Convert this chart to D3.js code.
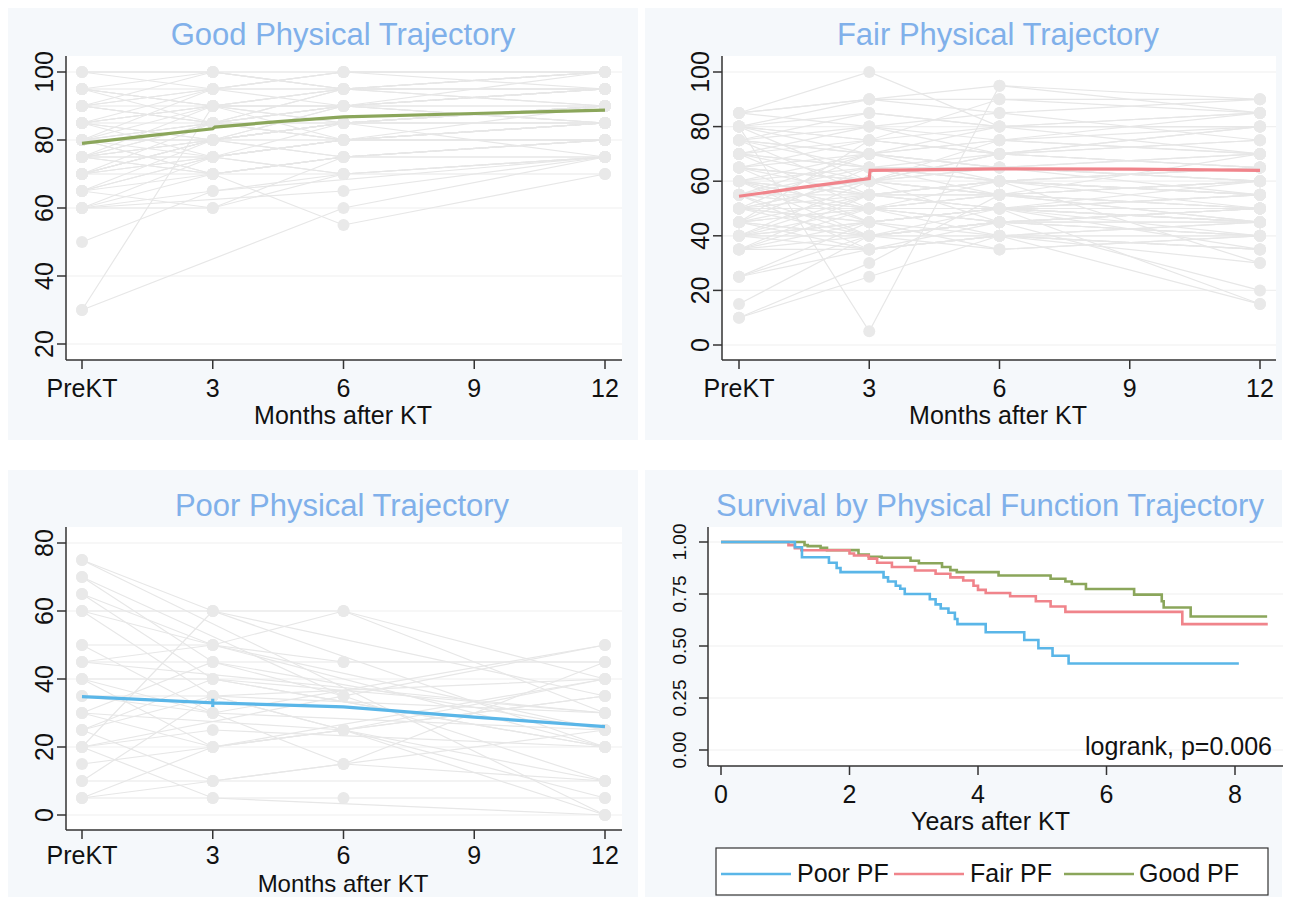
<!DOCTYPE html>
<html>
<head>
<meta charset="utf-8">
<script src="https://cdn.jsdelivr.net/npm/d3@7"></script>
<style>
  body { margin: 0; background: #fff; }
  svg text { font-family: "Liberation Sans", Arial, sans-serif; }
</style>
</head>
<body>
<div id="chart"></div>
<script>
var W = 1290, H = 897;

// ---- data ----
var months = [0, 3, 6, 12];
var monthTicks = [0, 3, 6, 9, 12];
var monthLabels = ["PreKT", "3", "6", "9", "12"];

// Good trajectory, one row per subject: PreKT, 3, 6, 12 months
var good0  = [100,100,95,95,90,90,90,85,85,85,80,80,80,80,75,75,75,75,70,70,70,70,65,65,60,60,60,50,30,30,75,95,90,85,80,75,65,95,100,85,60,65,60,80,90,75,80,85,70,95,85,80,75,70,90,95,80,75,70,85,90,65,80,75,70];
var good3  = [100,95,100,90,95,85,90,90,80,95,85,80,90,75,80,85,75,70,80,75,85,70,75,70,70,60,75,65,90,null,70,95,100,85,85,80,80,90,100,75,65,60,null,70,85,90,95,90,80,85,80,85,75,80,95,90,80,85,75,90,85,75,70,80,80];
var good6  = [100,100,95,95,100,90,85,95,85,90,90,85,80,80,85,80,80,75,75,85,90,75,80,70,75,70,70,null,90,60,55,95,95,95,85,90,75,90,95,70,70,75,65,75,80,85,100,90,80,90,90,85,80,85,95,95,85,80,80,90,95,80,75,85,85];
var good12 = [100,100,100,95,100,95,90,95,90,85,95,85,80,90,90,80,85,80,80,75,95,75,85,75,80,75,70,75,85,75,70,100,100,90,90,85,80,95,95,75,null,75,75,null,85,90,95,100,85,90,90,85,85,90,100,95,85,85,80,95,90,80,80,90,85];
var goodMeanX = [0, 1.5, 3, 3.05, 4.5, 6, 9, 12];
var goodMeanY = [79, 81.2, 83.3, 83.8, 85.4, 86.8, 87.8, 88.8];

// Fair trajectory
var fair0  = [85,85,80,80,75,75,70,70,65,65,60,60,55,55,50,50,45,45,40,40,35,35,25,25,15,10,10,80,85,80,75,70,65,60,55,50,45,40,35,45,40,50,60,55,70,75,65,80,35,50,40,45,55,60,65,35,70,75,80,85,50,45,40,55,60,25,70,65,60,55,50,45,40,75,80,55,45,60,50,65];
var fair3  = [100,90,90,85,80,70,75,65,70,60,65,55,60,50,55,45,50,40,45,40,40,45,40,45,40,25,30,5,90,75,85,80,75,70,65,60,55,50,50,35,55,40,45,40,60,65,55,70,35,50,60,65,70,50,45,55,50,55,60,80,70,75,35,35,40,35,65,60,55,50,60,50,45,70,75,55,40,50,45,60];
var fair6  = [80,95,90,80,85,75,70,60,65,75,70,60,65,55,60,50,55,45,50,40,45,40,45,50,45,40,55,95,85,90,80,75,70,80,55,70,60,45,50,40,60,35,50,45,55,60,50,65,40,45,55,65,60,40,35,55,45,50,45,70,75,80,45,40,50,40,60,65,55,60,55,50,50,65,70,50,45,55,50,70];
var fair12 = [85,85,90,80,75,70,80,65,60,70,75,55,70,50,65,45,60,40,55,35,50,30,50,45,40,45,60,90,90,85,80,85,65,70,60,65,55,20,15,15,30,40,35,50,45,55,45,60,35,40,50,55,50,35,40,70,45,60,50,75,80,85,45,45,55,40,65,60,50,55,60,45,50,70,80,55,50,45,40,65];
var fairMeanX = [0, 1.5, 3, 3.02, 6, 9, 12];
var fairMeanY = [54.5, 57.8, 61, 64, 64.5, 64.4, 64];

// Poor trajectory
var poor0  = [75,75,70,70,65,65,60,60,50,50,45,45,40,40,35,35,30,30,25,25,20,20,15,20,10,10,5,5,5,30,60,25,45,40,20];
var poor3  = [60,null,45,null,50,40,60,35,50,30,45,null,40,20,30,35,20,null,10,35,25,5,20,60,10,35,10,20,5,45,null,40,50,30,null];
var poor6  = [60,null,null,35,45,null,null,25,60,null,45,null,null,25,null,null,null,25,15,null,null,5,null,null,null,null,null,25,null,35,null,null,null,15,null];
var poor12 = [30,0,25,10,45,20,35,10,40,25,45,30,20,35,50,5,40,0,45,40,20,5,35,20,10,30,25,40,0,null,20,30,25,10,50];
var poorMeanX = [0, 3, 3, 3, 3, 6, 9, 12];
var poorMeanY = [34.8, 33, 34.2, 31.8, 33, 31.8, 28.8, 26];

// Kaplan-Meier survival by trajectory
var kmPoorT = [0, 1.15, 1.26, 1.68, 1.8, 1.86, 2.53, 2.6, 2.72, 2.79, 2.86, 3.25, 3.34, 3.42, 3.54, 3.64, 3.68, 4.12, 4.72, 4.94, 5.16, 5.41, 8.06];
var kmPoorS = [1, 0.975, 0.927, 0.9, 0.875, 0.855, 0.83, 0.81, 0.79, 0.775, 0.75, 0.725, 0.70, 0.68, 0.66, 0.63, 0.605, 0.566, 0.529, 0.489, 0.453, 0.416, 0.416];
var kmFairT = [0, 1.05, 1.15, 1.25, 2.0, 2.07, 2.3, 2.43, 2.66, 3.02, 3.34, 3.57, 3.77, 3.93, 4.0, 4.12, 4.5, 4.9, 5.13, 5.36, 7.18, 8.51];
var kmFairS = [1, 0.985, 0.97, 0.96, 0.945, 0.935, 0.92, 0.90, 0.88, 0.863, 0.847, 0.83, 0.815, 0.79, 0.77, 0.755, 0.739, 0.715, 0.69, 0.664, 0.605, 0.605];
var kmGoodT = [0, 1.3, 1.35, 1.55, 1.65, 2.14, 2.3, 2.5, 2.95, 3.08, 3.44, 3.57, 3.67, 4.32, 5.13, 5.36, 5.46, 5.68, 6.43, 6.86, 6.89, 7.31, 8.5];
var kmGoodS = [1, 0.985, 0.98, 0.972, 0.961, 0.94, 0.929, 0.924, 0.91, 0.898, 0.88, 0.865, 0.855, 0.839, 0.823, 0.81, 0.798, 0.774, 0.747, 0.715, 0.685, 0.642, 0.642];
var survTicks = [0, 0.25, 0.5, 0.75, 1];
var yearTicks = [0, 2, 4, 6, 8];

var legendNames = ["Poor PF", "Fair PF", "Good PF"];

var cPoor = "#5ab6e8", cFair = "#f0848b", cGood = "#8ba65b";
var titleColor = "#80b0ea", bg = "#f5f8fb", axisColor = "#333";
var spagLine = "#e7e7e7", spagDot = "#e9e9e9";

var svg = d3.select("#chart").append("svg")
  .attr("width", W).attr("height", H);

svg.append("rect").attr("width", W).attr("height", H).attr("fill", "#fff");

// panel backgrounds
[[8, 8, 630, 432], [645, 8, 637, 432], [8, 470, 630, 427], [645, 470, 637, 427]].forEach(function(b) {
  svg.append("rect").attr("x", b[0]).attr("y", b[1]).attr("width", b[2]).attr("height", b[3]).attr("fill", bg);
});

function drawAxes(g, x, y, p) {
  // plot area
  g.append("rect").attr("x", p.left).attr("y", p.top)
    .attr("width", p.right - p.left).attr("height", p.bottom - p.top).attr("fill", "#fff");
  // grid
  g.selectAll(".grid").data(p.yTicks).join("line")
    .attr("x1", p.left).attr("x2", p.right)
    .attr("y1", d => y(d)).attr("y2", d => y(d))
    .attr("stroke", "#f0f0f0").attr("stroke-width", 1.2);
}

function drawFrame(g, x, y, p) {
  g.append("line").attr("x1", p.left).attr("x2", p.left).attr("y1", p.top).attr("y2", p.bottom)
    .attr("stroke", axisColor).attr("stroke-width", 1.5);
  g.append("line").attr("x1", p.left).attr("x2", p.right).attr("y1", p.bottom).attr("y2", p.bottom)
    .attr("stroke", axisColor).attr("stroke-width", 1.5);
  p.yTicks.forEach(function(t, i) {
    g.append("line").attr("x1", p.left - 9).attr("x2", p.left).attr("y1", y(t)).attr("y2", y(t))
      .attr("stroke", axisColor).attr("stroke-width", 1.5);
    var lx = p.ylabX;
    g.append("text").attr("x", lx).attr("y", y(t))
      .attr("transform", "rotate(-90," + lx + "," + y(t) + ")")
      .attr("text-anchor", "middle").attr("font-size", p.yFont).attr("fill", "#111")
      .text(p.yLabels[i]);
  });
  var tdy = p.tickDy || 37;
  p.xTicks.forEach(function(t, i) {
    g.append("line").attr("x1", x(t)).attr("x2", x(t)).attr("y1", p.bottom).attr("y2", p.bottom + 9)
      .attr("stroke", axisColor).attr("stroke-width", 1.5);
    g.append("text").attr("x", x(t)).attr("y", p.bottom + tdy)
      .attr("text-anchor", "middle").attr("font-size", 25).attr("fill", "#111")
      .text(p.xLabels[i]);
  });
  g.append("text").attr("x", (p.left + p.right) / 2 + p.xtOff).attr("y", p.titleY || p.bottom + 64)
    .attr("text-anchor", "middle").attr("font-size", p.xtFont || 25).attr("fill", "#111").text(p.xTitle);
  g.append("text").attr("x", p.titleX).attr("y", p.top - 11)
    .attr("text-anchor", "middle").attr("font-size", 31).attr("fill", titleColor).text(p.title);
}

function trajPanel(p, v0, v3, v6, v12, mx, my, color) {
  var g = svg.append("g");
  var x = d3.scaleLinear().domain([0, 12]).range([p.x0, p.x12]);
  var y = d3.scaleLinear().domain(p.yDom).range(p.yRange);
  drawAxes(g, x, y, p);
  var line = d3.line().x(d => x(d[0])).y(d => y(d[1]));
  var subj = v0.map(function(_, i) {
    return [v0[i], v3[i], v6[i], v12[i]].map((v, j) => [months[j], v]).filter(d => d[1] != null);
  });
  g.selectAll(".sp").data(subj).join("path")
    .attr("d", line).attr("fill", "none").attr("stroke", spagLine).attr("stroke-width", 1.2);
  var pts = [];
  subj.forEach(s => s.forEach(d => pts.push(d)));
  g.selectAll(".pt").data(pts).join("circle")
    .attr("cx", d => x(d[0])).attr("cy", d => y(d[1])).attr("r", 6).attr("fill", spagDot);
  g.append("path").datum(mx.map((d, i) => [d, my[i]]))
    .attr("d", line).attr("fill", "none").attr("stroke", color).attr("stroke-width", 3.2);
  drawFrame(g, x, y, p);
}

var trajX = { xTicks: monthTicks, xLabels: monthLabels, xTitle: "Months after KT", yFont: 25 };

trajPanel(Object.assign({}, trajX, {
  left: 66, right: 622, top: 56, bottom: 360, x0: 82, x12: 605,
  yDom: [20, 100], yRange: [344, 72], yTicks: [20, 40, 60, 80, 100], yLabels: ["20", "40", "60", "80", "100"],
  ylabX: 53, titleX: 343, xtOff: -1, title: "Good Physical Trajectory"
}), good0, good3, good6, good12, goodMeanX, goodMeanY, cGood);

trajPanel(Object.assign({}, trajX, {
  left: 722, right: 1276, top: 56, bottom: 360, x0: 739, x12: 1260,
  yDom: [0, 100], yRange: [345, 72], yTicks: [0, 20, 40, 60, 80, 100], yLabels: ["0", "20", "40", "60", "80", "100"],
  ylabX: 709, titleX: 998, xtOff: -1, title: "Fair Physical Trajectory"
}), fair0, fair3, fair6, fair12, fairMeanX, fairMeanY, cFair);

trajPanel(Object.assign({}, trajX, {
  left: 66, right: 622, top: 527, bottom: 830, x0: 82, x12: 605,
  yDom: [0, 80], yRange: [815, 543], yTicks: [0, 20, 40, 60, 80], yLabels: ["0", "20", "40", "60", "80"],
  ylabX: 53, titleX: 342, xtOff: -1, title: "Poor Physical Trajectory",
  tickDy: 34, titleY: 891.5, xtFont: 24
}), poor0, poor3, poor6, poor12, poorMeanX, poorMeanY, cPoor);

// survival panel
(function() {
  var p = {
    left: 708, right: 1283, top: 527, bottom: 766,
    xTicks: yearTicks, xLabels: yearTicks.map(String), xTitle: "Years after KT",
    yTicks: survTicks, yLabels: survTicks.map(d3.format(".2f")), yFont: 19,
    ylabX: 686, titleX: 990, xtOff: -5, title: "Survival by Physical Function Trajectory"
  };
  var g = svg.append("g");
  var x = d3.scaleLinear().domain([0, 8]).range([721, 1235]);
  var y = d3.scaleLinear().domain([0, 1]).range([750, 542]);
  drawAxes(g, x, y, p);
  var step = d3.line().x(d => x(d[0])).y(d => y(d[1])).curve(d3.curveStepAfter);
  [[kmGoodT, kmGoodS, cGood], [kmFairT, kmFairS, cFair], [kmPoorT, kmPoorS, cPoor]].forEach(function(k) {
    g.append("path").datum(k[0].map((t, i) => [t, k[1][i]]))
      .attr("d", step).attr("fill", "none").attr("stroke", k[2]).attr("stroke-width", 2.6);
  });
  g.append("text").attr("x", 1272).attr("y", 755).attr("text-anchor", "end")
    .attr("font-size", 25).attr("fill", "#111").text("logrank, p=0.006");
  drawFrame(g, x, y, p);

  // legend
  var lg = svg.append("g");
  lg.append("rect").attr("x", 716).attr("y", 848).attr("width", 552).attr("height", 47)
    .attr("fill", "#fff").attr("stroke", "#333").attr("stroke-width", 1.2);
  var items = [[721, 797, cPoor], [894, 970, cFair], [1064, 1139, cGood]];
  items.forEach(function(it, i) {
    lg.append("line").attr("x1", it[0]).attr("x2", it[0] + 70).attr("y1", 874).attr("y2", 874)
      .attr("stroke", it[2]).attr("stroke-width", 2.6);
    lg.append("text").attr("x", it[1]).attr("y", 882).attr("font-size", 25).attr("fill", "#111")
      .text(legendNames[i]);
  });
})();
</script>
</body>
</html>
